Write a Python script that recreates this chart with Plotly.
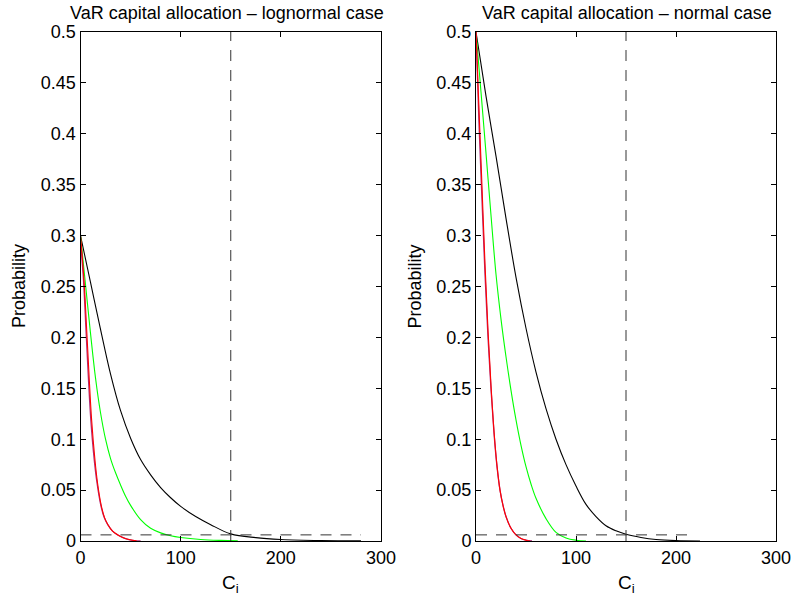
import plotly.graph_objects as go

# ---------------- data ----------------
# Left panel: lognormal case
ln_black_x = [0, 10, 20, 30, 40, 50, 60, 70, 80, 90, 100, 115, 130, 150, 175, 200, 240, 280]
ln_black_y = [0.300, 0.254, 0.208, 0.164, 0.128, 0.101, 0.080, 0.065, 0.0525, 0.0425, 0.034,
              0.024, 0.016, 0.0070, 0.0033, 0.0015, 0.0004, 0.0001]
ln_green_x = [0, 5, 10, 15, 20, 25, 30, 35, 40, 45, 50, 60, 70, 80, 90, 100, 120, 140, 157]
ln_green_y = [0.300, 0.252, 0.204, 0.160, 0.126, 0.100, 0.081, 0.067, 0.055, 0.044, 0.035,
              0.021, 0.0125, 0.0080, 0.0052, 0.0035, 0.0015, 0.0006, 0.0002]
ln_red_x = [0, 3.5, 6.2, 8.8, 11.1, 14.4, 17, 20.7, 24, 27.4, 32, 37.3, 42, 47.3, 52, 56]
ln_red_y = [0.300, 0.256, 0.207, 0.158, 0.119, 0.080, 0.057, 0.035, 0.023, 0.0160, 0.0097,
            0.0059, 0.0035, 0.0017, 0.0007, 0.0002]
ln_purple_x = [0, 3, 5.5, 8, 10.3, 13.7, 16.5, 20.3, 23.7, 27.2, 32, 37.3, 42, 47.3, 52, 56, 60]
ln_purple_y = [0.295, 0.256, 0.207, 0.158, 0.119, 0.080, 0.057, 0.035, 0.023, 0.0160, 0.0097,
               0.0059, 0.0035, 0.0017, 0.0007, 0.0002, 0.0]

# Right panel: normal case
n_black_x = [0, 10, 20, 30, 40, 50, 60, 70, 80, 90, 100, 110, 120, 130, 140, 150, 165, 180, 200, 224]
n_black_y = [0.500, 0.437, 0.378, 0.317, 0.259, 0.209, 0.166, 0.130, 0.100, 0.075, 0.054,
             0.036, 0.024, 0.015, 0.0100, 0.0066, 0.0035, 0.0015, 0.0004, 0.0]
n_green_x = [0, 5, 10, 15, 20, 25, 30, 35, 40, 45, 50, 55, 60, 70, 80, 90, 100, 110]
n_green_y = [0.500, 0.441, 0.381, 0.320, 0.262, 0.218, 0.181, 0.148, 0.119, 0.094, 0.073,
             0.056, 0.042, 0.022, 0.0085, 0.0030, 0.0008, 0.0]
n_red_x = [0, 3, 6, 9, 12, 15, 18, 21, 24, 27, 30, 35, 40, 45, 50, 54]
n_red_y = [0.500, 0.424, 0.348, 0.272, 0.207, 0.153, 0.108, 0.074, 0.050, 0.035, 0.024,
           0.0125, 0.0060, 0.0025, 0.0008, 0.0]
n_purple_x = [0, 3, 6, 9, 12, 15, 18, 21, 24, 27, 30, 35, 40, 45, 50, 56]
n_purple_y = [0.500, 0.410, 0.335, 0.262, 0.200, 0.149, 0.106, 0.073, 0.050, 0.035, 0.024,
              0.0125, 0.006, 0.0025, 0.0008, 0.0]

# Reference (dashed) lines
var_level = 0.006          # horizontal dashed level
var_capital = 150          # vertical dashed line position
hline_end_left = 280
hline_end_right = 214

titles = ["VaR capital allocation \u2013 lognormal case", "VaR capital allocation \u2013 normal case"]
x_ticks = [0, 100, 200, 300]
y_ticks = [0, 0.05, 0.1, 0.15, 0.2, 0.25, 0.3, 0.35, 0.4, 0.45, 0.5]
y_tick_text = ["0", "0.05", "0.1", "0.15", "0.2", "0.25", "0.3", "0.35", "0.4", "0.45", "0.5"]

# ---------------- figure ----------------
W, H = 793, 598
FONT = "Liberation Sans, Arial, Helvetica, sans-serif"
FS = 18
purple = "rgb(175,45,120)"

fig = go.Figure()

panels = [
    ("x", "y", ln_black_x, ln_black_y, ln_green_x, ln_green_y, ln_purple_x, ln_purple_y,
     ln_red_x, ln_red_y, hline_end_left),
    ("x2", "y2", n_black_x, n_black_y, n_green_x, n_green_y, n_purple_x, n_purple_y,
     n_red_x, n_red_y, hline_end_right),
]

for xa, ya, bx, by, gx, gy, px, py, rx, ry, hend in panels:
    fig.add_trace(go.Scatter(x=bx, y=by, mode="lines", line=dict(color="black", width=1.1, shape="spline"),
                             xaxis=xa, yaxis=ya, showlegend=False))
    fig.add_trace(go.Scatter(x=gx, y=gy, mode="lines", line=dict(color="#00ff00", width=1.1, shape="spline"),
                             xaxis=xa, yaxis=ya, showlegend=False))
    fig.add_trace(go.Scatter(x=px, y=py, mode="lines", line=dict(color=purple, width=1.3, shape="spline"),
                             xaxis=xa, yaxis=ya, showlegend=False))
    fig.add_trace(go.Scatter(x=rx, y=ry, mode="lines", line=dict(color="#ff0000", width=1.1, shape="spline"),
                             xaxis=xa, yaxis=ya, showlegend=False))
    # dashed reference lines
    fig.add_trace(go.Scatter(x=[0, hend], y=[var_level, var_level], mode="lines",
                             line=dict(color="#333333", width=1, dash="11px,9px"),
                             xaxis=xa, yaxis=ya, showlegend=False))
    fig.add_trace(go.Scatter(x=[var_capital, var_capital], y=[0, 0.5], mode="lines",
                             line=dict(color="#333333", width=1, dash="11px,9px"),
                             xaxis=xa, yaxis=ya, showlegend=False))


def px_x(p):
    return p / W


def px_y(p):
    return 1 - p / H


left_dom = [px_x(80.5), px_x(381)]
right_dom = [px_x(476), px_x(776)]
y_dom = [px_y(541), px_y(32)]

axis_common = dict(
    showline=True, linecolor="black", linewidth=1, mirror="ticks",
    ticks="inside", ticklen=5, tickcolor="black", tickwidth=1,
    showgrid=False, zeroline=False, automargin=False,
    tickfont=dict(family=FONT, size=FS, color="black"),
)

fig.update_layout(
    width=W, height=H,
    margin=dict(l=0, r=0, t=0, b=0, autoexpand=False),
    paper_bgcolor="white", plot_bgcolor="white",
    font=dict(family=FONT, size=FS, color="black"),
    hovermode=False,
    xaxis=dict(domain=left_dom, range=[0, 300], tickvals=x_ticks, anchor="y", **axis_common),
    yaxis=dict(domain=y_dom, range=[0, 0.5], tickvals=y_ticks, ticktext=y_tick_text, anchor="x", **axis_common),
    xaxis2=dict(domain=right_dom, range=[0, 300], tickvals=x_ticks, anchor="y2", **axis_common),
    yaxis2=dict(domain=y_dom, range=[0, 0.5], tickvals=y_ticks, ticktext=y_tick_text, anchor="x2", **axis_common),
)

annots = []
for dom, t, tx in zip([left_dom, right_dom], titles, [227, 627]):
    cx = (dom[0] + dom[1]) / 2
    annots.append(dict(text=t, x=px_x(tx), y=px_y(13), xref="paper", yref="paper",
                       xanchor="center", yanchor="middle", showarrow=False,
                       font=dict(family=FONT, size=FS, color="black")))
    annots.append(dict(text="C<sub>i</sub>", x=cx, y=px_y(570), xref="paper", yref="paper",
                       xanchor="center", yanchor="top", showarrow=False,
                       font=dict(family=FONT, size=19, color="black")))
    annots.append(dict(text="Probability", x=px_x(dom[0] * W - 62), y=(y_dom[0] + y_dom[1]) / 2,
                       xref="paper", yref="paper", xanchor="center", yanchor="middle",
                       textangle=-90, showarrow=False,
                       font=dict(family=FONT, size=FS, color="black")))
fig.update_layout(annotations=annots)

# remove the browser's default 8px page margin so the figure fills the window exactly
fig.write_html("out.html",
               config={"displayModeBar": False},
               post_script="document.body.style.margin='0';document.body.style.overflow='hidden';")
